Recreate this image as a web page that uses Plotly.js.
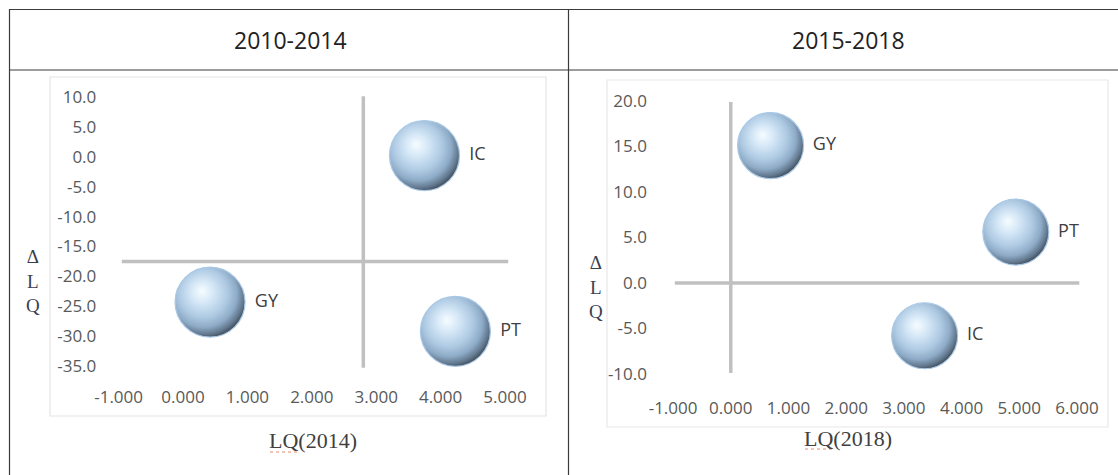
<!DOCTYPE html>
<html><head><meta charset="utf-8">
<script src="https://cdn.plot.ly/plotly-3.0.1.min.js"></script>
<style>html,body{margin:0;padding:0;background:#fff}#chart{width:1118px;height:475px}</style>
</head><body><div id="chart"></div>
<script>
// ---- data ----
const periods = ["2010-2014", "2015-2018"];
const industries = ["IC", "PT", "GY"];
const lq2014 = [3.75, 4.23, 0.42];
const dlq2010_2014 = [0.2, -29.2, -24.3];
const lq2018 = [3.36, 4.94, 0.69];
const dlq2015_2018 = [-5.8, 5.6, 15.1];
// quadrant cross lines (data units)
const leftHLineX = [-0.95, 5.05];
const leftHLineY = [-17.5, -17.5];
const leftVLineX = [2.8, 2.8];
const leftVLineY = [10.1, -35.3];
const rightHLineX = [-0.97, 6.04];
const rightHLineY = [0, 0];
const rightVLineX = [0, 0];
const rightVLineY = [19.9, -9.9];
// ticks and titles
const leftXTicks = [-1, 0, 1, 2, 3, 4, 5];
const leftYTicks = [10, 5, 0, -5, -10, -15, -20, -25, -30, -35];
const rightXTicks = [-1, 0, 1, 2, 3, 4, 5, 6];
const rightYTicks = [20, 15, 10, 5, 0, -5, -10];
const xTitles = ["LQ(2014)", "LQ(2018)"];
const yTitle = "ΔLQ";

// ---- helpers ----
const W = 1118, H = 475;
const px = v => v / W;
const py = v => 1 - v / H;
const tickFont = {family: "Open Sans, sans-serif", size: 17, color: "#595959"};
const crossLine = {color: "#c0c0c0", width: 3.5};

function bubble(x, y, xa, ya, size) {
  return {
    type: "scatter", mode: "markers+text", x: x, y: y, text: industries,
    xaxis: xa, yaxis: ya, textposition: "middle right",
    textfont: {family: "Open Sans, sans-serif", size: 18, color: "#404040"},
    marker: {size: size, color: "#5f7c98", line: {color: "#a9c8e6", width: 1.2},
             gradient: {type: "radial", color: "#f2f9ff"}},
    hoverinfo: "skip", showlegend: false, cliponaxis: false
  };
}
function line(x, y, xa, ya) {
  return {type: "scatter", mode: "lines", x: x, y: y, xaxis: xa, yaxis: ya,
          line: crossLine, hoverinfo: "skip", showlegend: false};
}

const data = [
  line(leftHLineX, leftHLineY, "x", "y"),
  line(leftVLineX, leftVLineY, "x", "y"),
  line(rightHLineX, rightHLineY, "x2", "y2"),
  line(rightVLineX, rightVLineY, "x2", "y2"),
  bubble(lq2014, dlq2010_2014, "x", "y", 70),
  bubble(lq2018, dlq2015_2018, "x2", "y2", 66)
];

function axis(ticks, dec, range, domain, anchor, standoff) {
  return {
    range: range, domain: domain, anchor: anchor,
    tickmode: "array", tickvals: ticks, ticktext: ticks.map(v => v.toFixed(dec)),
    showgrid: false, zeroline: false, showline: false, ticks: "",
    tickfont: tickFont, ticklabelstandoff: standoff, fixedrange: true
  };
}

const layout = {
  width: W, height: H, margin: {l: 0, r: 0, t: 0, b: 0},
  paper_bgcolor: "#ffffff", plot_bgcolor: "rgba(0,0,0,0)",
  showlegend: false,
  xaxis: axis(leftXTicks, 3, [-1.3, 5.3], [px(99.3), px(524.3)], "y", 7),
  yaxis: axis(leftYTicks, 1, [-37, 12], [py(378), py(85)], "x", 2),
  xaxis2: axis(rightXTicks, 3, [-1.4, 6.3], [px(650), px(1094.3)], "y2", 8),
  yaxis2: axis(rightYTicks, 1, [-11.5, 21.5], [py(387.6), py(87.4)], "x2", 2),
  shapes: [
    // table borders
    {type: "line", xref: "paper", yref: "paper", x0: px(9), x1: 1, y0: py(9.5), y1: py(9.5), line: {color: "#3a3a3a", width: 1.2}},
    {type: "line", xref: "paper", yref: "paper", x0: px(9), x1: 1, y0: py(70), y1: py(70), line: {color: "#3a3a3a", width: 1.2}},
    {type: "line", xref: "paper", yref: "paper", x0: px(9.5), x1: px(9.5), y0: py(9), y1: 0, line: {color: "#3a3a3a", width: 1.2}},
    {type: "line", xref: "paper", yref: "paper", x0: px(568.5), x1: px(568.5), y0: py(9), y1: 0, line: {color: "#3a3a3a", width: 1.2}},
    // chart frames
    {type: "rect", xref: "paper", yref: "paper", x0: px(50), x1: px(546), y0: py(77), y1: py(416), line: {color: "#e4e4e4", width: 1.2}},
    {type: "rect", xref: "paper", yref: "paper", x0: px(607), x1: px(1108), y0: py(80), y1: py(427), line: {color: "#e8e8e8", width: 1.2}},
    // spell-check underlines
    {type: "line", xref: "paper", yref: "paper", x0: px(270), x1: px(298), y0: py(452), y1: py(452), line: {color: "#e88a6a", width: 1, dash: "dot"}},
    {type: "line", xref: "paper", yref: "paper", x0: px(805), x1: px(833), y0: py(449), y1: py(449), line: {color: "#e88a6a", width: 1, dash: "dot"}}
  ],
  annotations: [
    {xref: "paper", yref: "paper", x: px(290), y: py(40), text: periods[0], showarrow: false,
     font: {family: "Open Sans, sans-serif", size: 23, color: "#222"}, xanchor: "center", yanchor: "middle"},
    {xref: "paper", yref: "paper", x: px(848), y: py(40), text: periods[1], showarrow: false,
     font: {family: "Open Sans, sans-serif", size: 23, color: "#222"}, xanchor: "center", yanchor: "middle"},
    {xref: "paper", yref: "paper", x: px(313), y: py(440), text: xTitles[0], showarrow: false,
     font: {family: "Liberation Serif, serif", size: 22, color: "#404040"}, xanchor: "center", yanchor: "middle"},
    {xref: "paper", yref: "paper", x: px(848), y: py(438), text: xTitles[1], showarrow: false,
     font: {family: "Liberation Serif, serif", size: 22, color: "#404040"}, xanchor: "center", yanchor: "middle"},
    {xref: "paper", yref: "paper", x: px(33), y: py(281), text: yTitle.split("").join("<br>"), showarrow: false,
     font: {family: "Liberation Serif, serif", size: 19, color: "#3a3f4f"}, xanchor: "center", yanchor: "middle"},
    {xref: "paper", yref: "paper", x: px(596), y: py(287), text: yTitle.split("").join("<br>"), showarrow: false,
     font: {family: "Liberation Serif, serif", size: 19, color: "#3a3f4f"}, xanchor: "center", yanchor: "middle"}
  ]
};

Plotly.newPlot("chart", data, layout, {staticPlot: true, displayModeBar: false}).then(function () {
  // give the radial gradient an off-centre highlight for a sphere look lit from the upper left
  document.querySelectorAll("radialGradient").forEach(function (g) {
    g.setAttribute("cx", "0.42");
    g.setAttribute("cy", "0.40");
    g.setAttribute("r", "0.63");
    g.setAttribute("fx", "0.38");
    g.setAttribute("fy", "0.34");
    while (g.firstChild) g.removeChild(g.firstChild);
    [["0%", "#f6fcff"], ["25%", "#d6e8f7"], ["55%", "#aecae3"], ["75%", "#8eabc7"], ["90%", "#62788e"], ["100%", "#3c4753"]].forEach(function (s) {
      const st = document.createElementNS("http://www.w3.org/2000/svg", "stop");
      st.setAttribute("offset", s[0]);
      st.setAttribute("stop-color", s[1]);
      g.appendChild(st);
    });
  });
});
</script>
</body></html>
